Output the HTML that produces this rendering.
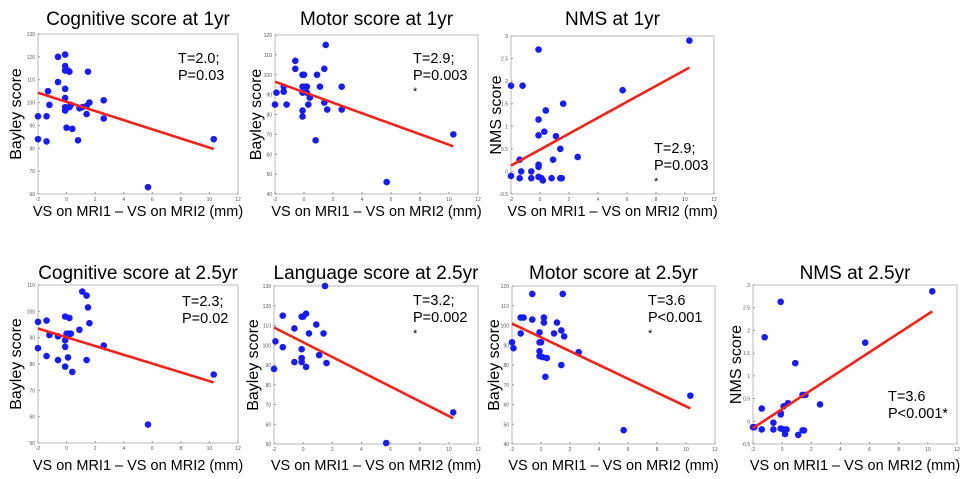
<!DOCTYPE html>
<html><head><meta charset="utf-8">
<style>
html,body{margin:0;padding:0;background:#fff;}
svg{display:block;font-family:"Liberation Sans",Arial,sans-serif;}
</style></head>
<body>
<svg id="fig" width="975" height="479" viewBox="0 0 975 479" xmlns="http://www.w3.org/2000/svg"></svg>
<script>
// ---- data ----
const p1x=[-2,-2,-1.4,-1.4,-1.3,-1.2,-0.6,-0.6,-0.1,-0.1,-0.1,-0.1,-0.1,-0.1,-0.1,0,0.1,0.2,0.2,0.3,0.4,0.8,0.9,1.1,1.4,1.4,1.5,1.6,2.6,2.6,5.7,10.3];
const p1y=[84,94,94,83,105,99,120,109,121,116,114,106,102,98,96.5,89,114,113.5,98,99,88.5,83.5,97.5,98,95,98.5,113.5,100,101,93,63,84];
const p2x=[-2,-1.9,-1.4,-1.4,-1.2,-0.6,-0.6,-0.1,0,-0.1,0.1,0.2,-0.1,0.2,0.3,0.4,-0.1,-0.1,0.8,0.9,1.1,1.4,1.4,1.5,1.6,2.6,2.6,5.7,10.3];
const p2y=[85,91,94,91.5,85,107,103,100,100,94,94,94,91,91,85,88.5,82,79,67,100,94,103,86,115,82.5,94,82.5,46,70];
const p3x=[-2,-1.2,-0.1,-0.1,-0.1,0.3,0.4,1.1,1.6,1.4,0.9,-1.4,2.6,-0.1,-0.1,-1.3,-0.6,-2,-1.4,-0.6,-0.1,0.1,0.2,0.8,1.4,1.5,5.7,10.3];
const p3y=[1.9,1.9,2.7,1.15,0.8,0.88,1.35,0.78,1.5,0.5,0.26,0.26,0.32,0.15,0.1,0,0,-0.1,-0.15,-0.15,-0.12,-0.15,-0.2,-0.15,-0.15,-0.15,1.8,2.9];
const p4x=[-2,-2,-1.4,-1.4,-1.2,-0.6,-0.6,-0.1,-0.1,-0.1,-0.1,0,0.1,0.2,0.2,0.3,0.4,0.9,1.1,1.4,1.5,1.6,1.4,2.6,5.7,10.3];
const p4y=[86,96,96.5,83,91,90.5,81.5,98,89,86.5,79,91.5,82.5,97.5,91.5,91.5,77,93,107.5,106,101.5,95.5,81.5,87,57,76];
const p5x=[-2,-1.9,-1.4,-1.4,-0.6,-0.6,-0.1,0,0.2,-0.1,-0.1,-0.1,0.2,0.4,0.9,1.1,1.4,1.5,1.6,5.7,10.3];
const p5y=[88,102,115,99,108.5,91.5,114.5,114.5,116,98,93.5,91.5,89,106,110.5,95,106,130,91,50.5,66];
const p6x=[-2,-1.9,-1.4,-1.2,-1.4,-0.6,-0.6,-0.1,-0.1,0,-0.1,-0.1,0.1,0.2,0.2,0.4,0.3,0.9,1.1,1.4,1.5,1.6,1.4,2.6,5.7,10.3];
const p6y=[91.5,88.5,104,104,96,116,103,96.5,91.5,91.5,87,84.5,84,104,101.5,83.5,74,96,101.5,97.5,116,94.5,80,86.5,47,64.5];
const p7x=[-2,-1.9,-1.4,-1.4,-1.2,-0.6,-0.6,-0.1,-0.1,-0.1,-0.1,0.1,0.1,0.2,0.3,0.4,0.9,1.1,1.4,1.6,1.4,1.5,2.6,5.7,10.3];
const p7y=[-0.13,-0.13,0.28,-0.18,1.85,-0.03,-0.18,2.63,0.18,0.15,-0.16,0.33,-0.18,-0.28,-0.18,0.4,1.28,-0.3,0.58,0.58,-0.2,-0.2,0.37,1.73,2.86];
const fitStart=[104.3,96.5,0.13,93.5,109,101,-0.15];
const fitEnd=[79.7,64,2.3,73,63,58,2.42];
const fitXRange=[-2,10.3];
const xTicks=[-2,0,2,4,6,8,10,12];
const yTicks1=[60,70,80,90,100,110,120,130];
const yTicks2=[40,50,60,70,80,90,100,110,120];
const yTicksN=[-0.5,0,0.5,1,1.5,2,2.5,3];
const yTicks4=[50,60,70,80,90,100,110];
const yTicks5=[50,60,70,80,90,100,110,120,130];
const titles=["Cognitive score at 1yr","Motor score at 1yr","NMS at 1yr","Cognitive score at 2.5yr","Language score at 2.5yr","Motor score at 2.5yr","NMS at 2.5yr"];
const statsText=[["T=2.0;","P=0.03"],["T=2.9;","P=0.003","*"],["T=2.9;","P=0.003","*"],["T=2.3;","P=0.02"],["T=3.2;","P=0.002","*"],["T=3.6","P<0.001","*"],["T=3.6","P<0.001*"]];
// ---- layout ----
const panels=[
 {x0:38,x1:238,y0:34,y1:194,yt:yTicks1,yl:"Bayley score",ylx:16,tx:178,ty:63,px:p1x,py:p1y,title:0},
 {x0:275,x1:478,y0:35,y1:194,yt:yTicks2,yl:"Bayley score",ylx:256,tx:413,ty:63,px:p2x,py:p2y},
 {x0:511,x1:714,y0:36,y1:194,yt:yTicksN,yl:"NMS score",ylx:496,tx:654,ty:153,px:p3x,py:p3y},
 {x0:38,x1:238,y0:285,y1:443,yt:yTicks4,yl:"Bayley score",ylx:16,tx:182,ty:306,px:p4x,py:p4y},
 {x0:274,x1:478,y0:286,y1:444,yt:yTicks5,yl:"Bayley score",ylx:253,tx:413,ty:305,px:p5x,py:p5y},
 {x0:512,x1:715,y0:286,y1:444,yt:yTicks2,yl:"Bayley score",ylx:494,tx:648,ty:305,px:p6x,py:p6y},
 {x0:753,x1:957,y0:285,y1:444,yt:yTicksN,yl:"NMS score",ylx:736,tx:888,ty:401,px:p7x,py:p7y}
];
const NS="http://www.w3.org/2000/svg";
const svg=document.getElementById('fig');
function mk(tag,attrs,parent){const e=document.createElementNS(NS,tag);for(const k in attrs)e.setAttribute(k,attrs[k]);(parent||svg).appendChild(e);return e;}
panels.forEach((p,i)=>{
  const g=mk('g',{});
  
  
  const yMin=p.yt[0],yMax=p.yt[p.yt.length-1];
  const sx=v=>p.x0+(v-xTicks[0])/(xTicks[xTicks.length-1]-xTicks[0])*(p.x1-p.x0);
  const sy=v=>p.y1-(v-yMin)/(yMax-yMin)*(p.y1-p.y0);
  const t=mk('text',{x:(p.x0+p.x1)/2,y:i<3?25:279,'text-anchor':'middle','font-size':19,fill:'#000'},g);
  t.textContent=titles[i];
  
  
  const box=mk('rect',{x:p.x0,y:p.y0,width:p.x1-p.x0,height:p.y1-p.y0,fill:'#fff',stroke:'#bbb','stroke-width':1},g);
  
  
  xTicks.forEach(v=>{
    mk('line',{x1:sx(v),x2:sx(v),y1:p.y1,y2:p.y1-2,stroke:'#999'},g);
    const tl=mk('text',{x:sx(v),y:p.y1+7,'text-anchor':'middle','font-size':5,fill:'#555'},g);
    tl.textContent=v;
    
    
  });
  p.yt.forEach(v=>{
    mk('line',{x1:p.x0,x2:p.x0+2,y1:sy(v),y2:sy(v),stroke:'#999'},g);
    const tl=mk('text',{x:p.x0-3,y:sy(v)+2,'text-anchor':'end','font-size':5,fill:'#555'},g);
    tl.textContent=v;
    
    
  });
  const yl=mk('text',{x:p.ylx,y:(p.y0+p.y1)/2,'text-anchor':'middle','font-size':16,transform:'rotate(-90 '+p.ylx+' '+(p.y0+p.y1)/2+')',dy:5},g);
  yl.textContent=p.yl;
  
  
  const xl=mk('text',{x:(p.x0+p.x1)/2,y:i<3?216:470,'text-anchor':'middle','font-size':14.5},g);
  xl.textContent="VS on MRI1 \u2013 VS on MRI2 (mm)";
  
  
  p.px.forEach((xv,k)=>{
    const c=mk('circle',{cx:sx(xv),cy:sy(p.py[k]),r:3.3,fill:'#1a1aff'},g);
    
    
  });
  const ln=mk('line',{x1:sx(fitXRange[0]),y1:sy(fitStart[i]),x2:sx(fitXRange[1]),y2:sy(fitEnd[i]),stroke:'#f2231a','stroke-width':2.6},g);
  
  
  statsText[i].forEach((s,k)=>{
    const st=mk('text',{x:p.tx,y:p.ty+k*(s==="*"?15:17)+(s==="*"?2:0),'font-size':s==="*"?11:14.5},g);
    st.textContent=s;
    
    
  });
});
</script>
</body></html>
